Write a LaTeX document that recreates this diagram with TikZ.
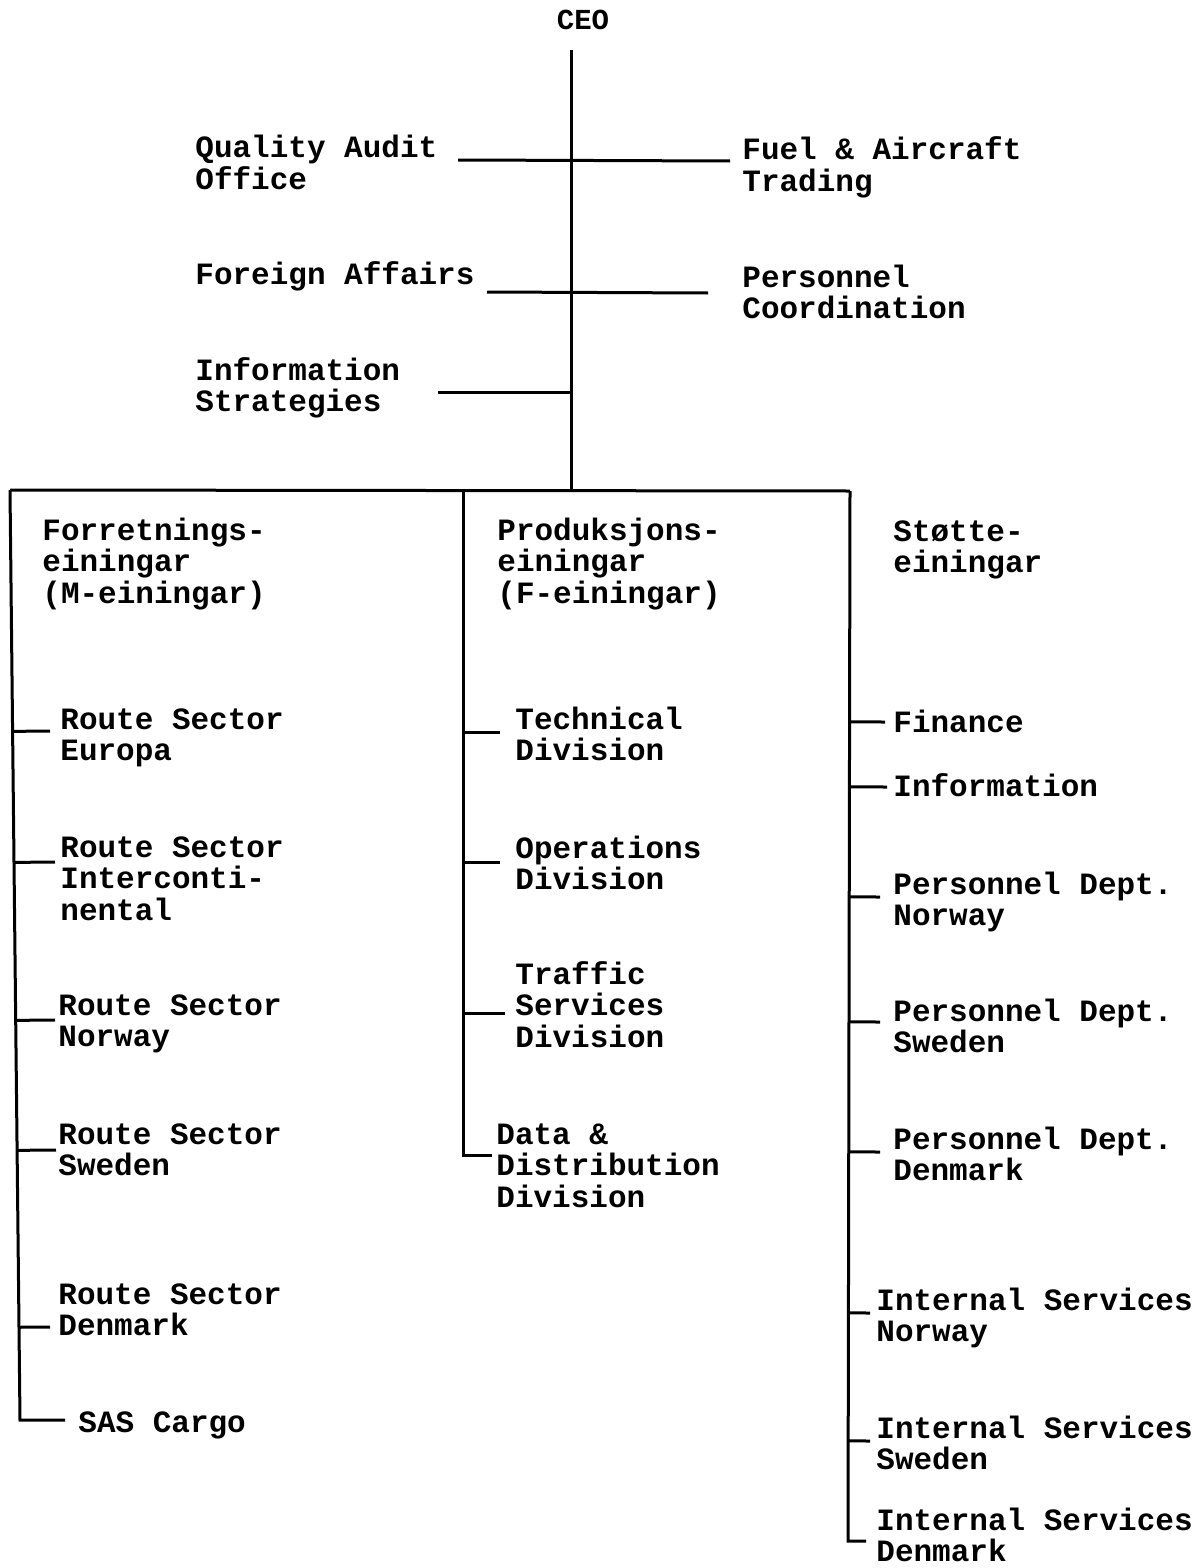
\documentclass[tikz,border=0pt]{standalone}
\usepackage{fontspec}
\setmonofont{Liberation Mono}
\usetikzlibrary{calc}
% left-aligned lines whose baseline is that of the first line
\newcommand{\lns}[1]{\begin{tabular}[t]{@{}l@{}}#1\end{tabular}}
\begin{document}
\begin{tikzpicture}[x=0.5pt,y=-0.5pt,
  ln/.style={line width=1.5pt},
  lbl/.style={anchor=base west, inner sep=0pt,
    font=\ttfamily\bfseries\fontsize{15.5}{15.75}\selectfont}]
\useasboundingbox (0,0) rectangle (1199,1568);

% top of the chart
\node[anchor=base, inner sep=0pt, font=\ttfamily\bfseries\fontsize{14.5}{15}\selectfont] (ceo) at (583,30) {CEO};
\node[lbl] (qa)   at (195,157) {\lns{Quality Audit\\Office}};
\node[lbl] (fuel) at (742,160) {\lns{Fuel \& Aircraft\\Trading}};
\node[lbl] (fa)   at (195,284) {\lns{Foreign Affairs}};
\node[lbl] (pc)   at (742,287) {\lns{Personnel\\Coordination}};
\node[lbl] (is)   at (195,380) {\lns{Information\\Strategies}};

% group headings
\node[lbl] (hM) at (42,540)  {\lns{Forretnings-\\einingar\\(M-einingar)}};
\node[lbl] (hP) at (497,540) {\lns{Produksjons-\\einingar\\(F-einingar)}};
\node[lbl] (hS) at (893,541) {\lns{Støtte-\\einingar}};

% business units
\node[lbl] (rse) at (60,729)  {\lns{Route Sector\\Europa}};
\node[lbl] (rsi) at (60,857)  {\lns{Route Sector\\Interconti-\\nental}};
\node[lbl] (rsn) at (58,1015) {\lns{Route Sector\\Norway}};
\node[lbl] (rss) at (58,1144) {\lns{Route Sector\\Sweden}};
\node[lbl] (rsd) at (58,1304) {\lns{Route Sector\\Denmark}};
\node[lbl] (sas) at (78,1432) {\lns{SAS Cargo}};

% production units
\node[lbl] (td)  at (515,729)  {\lns{Technical\\Division}};
\node[lbl] (od)  at (515,858)  {\lns{Operations\\Division}};
\node[lbl] (tsd) at (515,984)  {\lns{Traffic\\Services\\Division}};
\node[lbl] (dd)  at (496,1144) {\lns{Data \&\\Distribution\\Division}};

% support units
\node[lbl] (fin) at (893,732)  {\lns{Finance}};
\node[lbl] (inf) at (893,796)  {\lns{Information}};
\node[lbl] (pdn) at (893,894)  {\lns{Personnel Dept.\\Norway}};
\node[lbl] (pds) at (893,1021) {\lns{Personnel Dept.\\Sweden}};
\node[lbl] (pdd) at (893,1149) {\lns{Personnel Dept.\\Denmark}};
\node[lbl] (isn) at (876,1310) {\lns{Internal Services\\Norway}};
\node[lbl] (iss) at (876,1438) {\lns{Internal Services\\Sweden}};
\node[lbl] (isd) at (876,1530) {\lns{Internal Services\\Denmark}};

% trunks
\coordinate (c0) at (571,50);
\coordinate (c1) at (571,490);
\coordinate (Lt) at (10,490);
\coordinate (Pt) at (463,490);
\coordinate (St) at (850,491);
\coordinate (sas-in) at ($(sas.base west)+(-13,-12)$);
\coordinate (Lb) at ($(sas.base west)+(-58,-12)$);
\coordinate (dd-in) at ($(dd.base west)+(-4,11)$);
\coordinate (Pb) at (Pt |- dd-in);
\coordinate (isd-in) at ($(isd.base west)+(-10,11)$);
\coordinate (Sb) at ($(isd-in)+(-18,0)$);

\draw[ln] (c0) -- (c1);
\draw[ln] (Lt) -- (St);
\draw[ln] (Lt) -- (Lb) -- (sas-in);
\draw[ln] (Pt) -- (Pb) -- (dd-in);
\draw[ln] (St) -- (Sb) -- (isd-in);

% staff offices
\coordinate (qa-out)  at ($(qa.base west)+(263,3)$);
\coordinate (fuel-in) at ($(fuel.base west)+(-12,1)$);
\coordinate (fa-out)  at ($(fa.base west)+(292,8)$);
\coordinate (pc-in)   at ($(pc.base west)+(-34,6)$);
\coordinate (is-out)  at ($(is.base west)+(243,12)$);
\draw[ln] (qa-out) -- (fuel-in);
\draw[ln] (fa-out) -- (pc-in);
\draw[ln] (is-out) -- (c0 |- is-out);

% branches off the left trunk
\foreach \n/\dx/\dy in {rse/-10/2, rsi/-5/5, rsn/-3/5, rss/-2/6, rsd/-8/23}{
  \coordinate (\n-in) at ($(\n.base west)+(\dx,\dy)$);
  \draw[ln] ($(Lt)!(\n-in)!(Lb)$) -- (\n-in);
}
% branches off the middle trunk
\foreach \n/\dx/\dy in {td/-15/3, od/-15/4, tsd/-10/29}{
  \coordinate (\n-in) at ($(\n.base west)+(\dx,\dy)$);
  \draw[ln] (Pt |- \n-in) -- (\n-in);
}
% branches off the right trunk
\foreach \n/\dx/\dy in {fin/-8/-10, inf/-6/-9, pdn/-13/3, pds/-13/1, pdd/-13/3, isn/-6/3, iss/-6/3}{
  \coordinate (\n-in) at ($(\n.base west)+(\dx,\dy)$);
  \draw[ln] ($(St)!(\n-in)!(Sb)$) -- (\n-in);
}
\end{tikzpicture}
\end{document}
